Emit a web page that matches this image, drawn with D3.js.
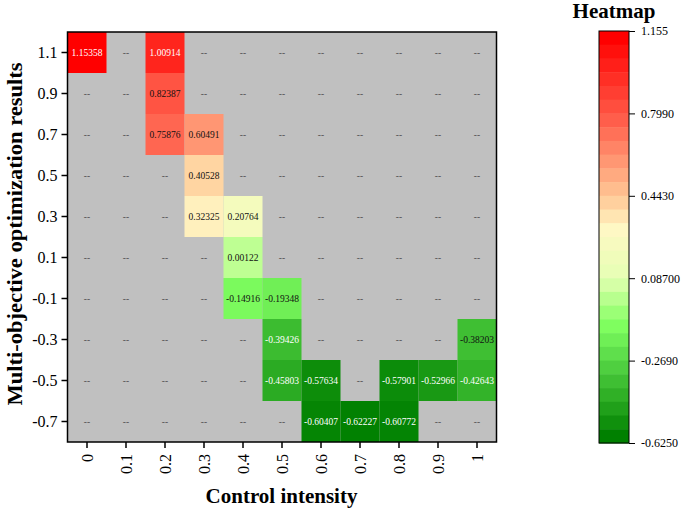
<!DOCTYPE html>
<html><head><meta charset="utf-8">
<script src="https://cdn.jsdelivr.net/npm/d3@7"></script>
<style>html,body{margin:0;padding:0;background:#fff;}</style>
</head><body>
<svg id="chart" width="682" height="511"></svg>
<script>
// ---- data ----
const xCategories = ["0","0.1","0.2","0.3","0.4","0.5","0.6","0.7","0.8","0.9","1"];
const yCategories = ["1.1","0.9","0.7","0.5","0.3","0.1","-0.1","-0.3","-0.5","-0.7"];
const row_1_1  = [1.15358, null, 1.00914, null, null, null, null, null, null, null, null];
const row_0_9  = [null, null, 0.82387, null, null, null, null, null, null, null, null];
const row_0_7  = [null, null, 0.75876, 0.60491, null, null, null, null, null, null, null];
const row_0_5  = [null, null, null, 0.40528, null, null, null, null, null, null, null];
const row_0_3  = [null, null, null, 0.32325, 0.20764, null, null, null, null, null, null];
const row_0_1  = [null, null, null, null, 0.00122, null, null, null, null, null, null];
const row_m0_1 = [null, null, null, null, -0.14916, -0.19348, null, null, null, null, null];
const row_m0_3 = [null, null, null, null, null, -0.39426, null, null, null, null, -0.38203];
const row_m0_5 = [null, null, null, null, null, -0.45803, -0.57634, null, -0.57901, -0.52966, -0.42643];
const row_m0_7 = [null, null, null, null, null, null, -0.60407, -0.62227, -0.60772, null, null];
const rows = [row_1_1,row_0_9,row_0_7,row_0_5,row_0_3,row_0_1,row_m0_1,row_m0_3,row_m0_5,row_m0_7];
const legendTicks = ["1.155","0.7990","0.4430","0.08700","-0.2690","-0.6250"];
const colorMin = -0.625, colorMax = 1.155;

// ---- layout ----
const svg = d3.select("#chart");
const plot = {left: 67.5, top: 32, width: 429, height: 410};
const serif = "'Liberation Serif','Times New Roman',serif";

const x = d3.scaleBand().domain(xCategories).range([plot.left, plot.left + plot.width]);
const y = d3.scaleBand().domain(yCategories).range([plot.top, plot.top + plot.height]);

const color = d3.scaleLinear()
  .domain([1.155, 0.799, 0.443, 0.30, 0.087, -0.13, -0.269, -0.625])
  .range(["#ff0000","#ff5a48","#ffc896","#fff8c4","#e6ffb4","#80ff60","#5cdc4a","#008000"])
  .interpolate(d3.interpolateRgb).clamp(true);

// background
svg.append("rect").attr("x", plot.left).attr("y", plot.top)
  .attr("width", plot.width).attr("height", plot.height).attr("fill", "#c0c0c0");

const cells = [];
rows.forEach((r, i) => r.forEach((v, j) => cells.push({xc: xCategories[j], yc: yCategories[i], v})));

svg.append("g").selectAll("rect").data(cells.filter(d => d.v !== null)).join("rect")
  .attr("x", d => x(d.xc)).attr("y", d => y(d.yc))
  .attr("width", x.bandwidth()).attr("height", y.bandwidth())
  .attr("fill", d => color(d.v));

svg.append("g").selectAll("text").data(cells).join("text")
  .attr("x", d => x(d.xc) + x.bandwidth() / 2)
  .attr("y", d => y(d.yc) + y.bandwidth() / 2)
  .attr("dy", "0.35em")
  .attr("text-anchor", "middle")
  .attr("font-family", serif).attr("font-size", 9.5)
  .attr("fill", d => d.v === null ? "#555" : (d.v > 0.9 || d.v < -0.39 ? "#ffffff" : "#111"))
  .text(d => d.v === null ? "--" : d.v.toFixed(5));

// border
svg.append("rect").attr("x", plot.left).attr("y", plot.top)
  .attr("width", plot.width).attr("height", plot.height)
  .attr("fill", "none").attr("stroke", "#000").attr("stroke-width", 1.5);

// axes
const yAxis = svg.append("g").attr("transform", `translate(${plot.left},0)`)
  .call(d3.axisLeft(y).tickSize(6).tickPadding(4));
yAxis.select(".domain").remove();
yAxis.selectAll("line").attr("stroke", "#000").attr("stroke-width", 1.5);
yAxis.selectAll("text").attr("font-family", serif).attr("font-size", 16).attr("fill", "#000");

const xAxis = svg.append("g").attr("transform", `translate(0,${plot.top + plot.height})`)
  .call(d3.axisBottom(x).tickSize(6).tickPadding(4));
xAxis.select(".domain").remove();
xAxis.selectAll("line").attr("stroke", "#000").attr("stroke-width", 1.5);
xAxis.selectAll("text").attr("font-family", serif).attr("font-size", 16).attr("fill", "#000")
  .attr("transform", "rotate(-90)").attr("text-anchor", "end")
  .attr("x", -12).attr("y", 0).attr("dy", "0.35em");

// axis titles
svg.append("text").attr("x", plot.left + plot.width / 2 - 0.5).attr("y", 503)
  .attr("text-anchor", "middle").attr("font-family", serif).attr("font-weight", "bold")
  .attr("font-size", 21).text("Control intensity");
svg.append("text").attr("transform", `translate(22,234) rotate(-90)`)
  .attr("text-anchor", "middle").attr("font-family", serif).attr("font-weight", "bold")
  .attr("font-size", 20).attr("textLength", 343).attr("lengthAdjust", "spacingAndGlyphs")
  .text("Multi-objective optimization results");

// legend
const lg = {x: 599, y: 31, w: 30, h: 412};
const nBands = 30;
const ly = d3.scaleLinear().domain([colorMax, colorMin]).range([lg.y, lg.y + lg.h]);
const bands = d3.range(nBands);
const bandH = lg.h / nBands;
svg.append("g").selectAll("rect").data(bands).join("rect")
  .attr("x", lg.x).attr("y", i => lg.y + i * bandH)
  .attr("width", lg.w).attr("height", bandH + 0.5)
  .attr("fill", i => color(colorMax - (colorMax - colorMin) * i / (nBands - 1)));
svg.append("rect").attr("x", lg.x).attr("y", lg.y).attr("width", lg.w).attr("height", lg.h)
  .attr("fill", "none").attr("stroke", "#000").attr("stroke-width", 1);

const lAxis = svg.append("g").attr("transform", `translate(${lg.x + lg.w},0)`)
  .call(d3.axisRight(ly).tickValues(legendTicks.map(Number)).tickFormat((d, i) => legendTicks[i]).tickSize(6).tickPadding(6));
lAxis.select(".domain").remove();
lAxis.selectAll("line").attr("stroke", "#000").attr("stroke-width", 1);
lAxis.selectAll("text").attr("font-family", serif).attr("font-size", 12).attr("fill", "#000");

svg.append("text").attr("x", lg.x + lg.w / 2).attr("y", 18)
  .attr("text-anchor", "middle").attr("font-family", serif).attr("font-weight", "bold")
  .attr("font-size", 21).text("Heatmap");
</script>
</body></html>
